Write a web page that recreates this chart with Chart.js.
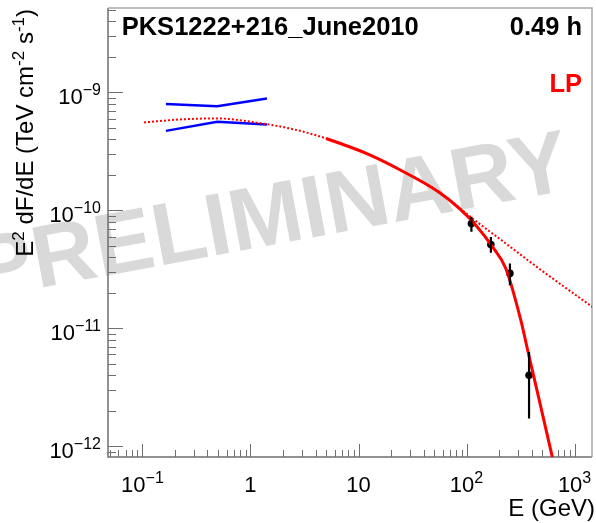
<!DOCTYPE html>
<html>
<head>
<meta charset="utf-8">
<script src="https://cdn.jsdelivr.net/npm/chart.js@4.4.1/dist/chart.umd.min.js"></script>
<style>
  html, body { margin: 0; padding: 0; background: #fff; }
  #wrap { width: 596px; height: 523px; }
</style>
</head>
<body>
<div id="wrap"><canvas id="sed"></canvas></div>
<script>
// spectral points, E in GeV, E^2 dF/dE in TeV cm^-2 s^-1
const pointE = [111, 168, 252, 379];
const pointF = [7.74e-11, 5.14e-11, 2.92e-11, 4.0e-12];
const pointFLow = [6.57e-11, 4.36e-11, 2.32e-11, 1.72e-12];
const pointFHigh = [8.81e-11, 5.93e-11, 3.55e-11, 6.28e-12];

// Fermi butterfly edges
const bowE = [0.165, 0.492, 1.42];
const bowUpper = [7.96e-10, 7.65e-10, 8.89e-10];
const bowLower = [4.72e-10, 5.63e-10, 5.35e-10];

// log-parabola, intrinsic (dotted)
const lpE = [0.1035, 0.222, 0.485, 1.41, 2.31, 3.53, 5.03, 11.8, 23.9, 56, 113.5, 231, 469, 1457];
const lpF = [5.57e-10, 5.90e-10, 6.02e-10, 5.38e-10, 4.95e-10, 4.49e-10, 4.07e-10, 3.04e-10, 2.22e-10, 1.43e-10, 8.54e-11, 5.24e-11, 3.21e-11, 1.52e-11];

// log-parabola with EBL absorption (solid)
const lpAbsE = [5.03, 11.8, 23.9, 56, 85.6, 122, 174, 231, 318, 374, 449, 622, 663];
const lpAbsF = [4.07e-10, 3.04e-10, 2.22e-10, 1.42e-10, 1.04e-10, 7.49e-11, 4.90e-11, 3.21e-11, 1.17e-11, 6.11e-12, 2.98e-12, 8.11e-13, 6.25e-13];

// axis labels: [base, exponent]
const xTickVals = [0.1, 1, 10, 100, 1000];
const xTickLabels = [['10', '\u22121'], ['1', ''], ['10', ''], ['10', '2'], ['10', '3']];
const yTickVals = [1e-12, 1e-11, 1e-10, 1e-9];
const yTickLabels = [['10', '\u221212'], ['10', '\u221211'], ['10', '\u221210'], ['10', '\u22129']];

const sourceName = 'PKS1222+216_June2010';
const exposure = '0.49 h';
const modelName = 'LP';
const watermark = 'PRELIMINARY';
const xTitle = 'E (GeV)';
// y title pieces, true = superscript
const yTitle = [['E', false], ['2', true], [' dF/dE (TeV cm', false], ['-2', true], [' s', false], ['-1', true], [')', false]];

const FONT = '"Liberation Sans", Arial, Helvetica, sans-serif';

const pairs = (xs, ys) => xs.map((x, i) => ({ x: x, y: ys[i] }));

function minorTicks(min, max) {
  const out = [];
  for (let e = Math.floor(Math.log10(min)); e <= Math.ceil(Math.log10(max)); e++) {
    for (let k = 1; k <= 9; k++) {
      const v = k * Math.pow(10, e);
      if (v >= min && v <= max) out.push({ v: v, major: k === 1 });
    }
  }
  return out;
}

function drawSup(ctx, base, sup, x, y, size, supSize, raise) {
  ctx.font = size + 'px ' + FONT;
  ctx.fillText(base, x, y);
  const w = ctx.measureText(base).width;
  if (sup) {
    ctx.font = supSize + 'px ' + FONT;
    ctx.fillText(sup, x + w, y - raise);
  }
}
function supWidth(ctx, base, sup, size, supSize) {
  ctx.font = size + 'px ' + FONT;
  let w = ctx.measureText(base).width;
  if (sup) {
    ctx.font = supSize + 'px ' + FONT;
    w += ctx.measureText(sup).width;
  }
  return w;
}

const rootFrame = {
  id: 'rootFrame',
  beforeDraw(chart) {
    const ctx = chart.ctx;
    ctx.save();
    ctx.fillStyle = '#ffffff';
    ctx.fillRect(0, 0, chart.width, chart.height);
    // watermark
    ctx.translate(-20, 299);
    ctx.rotate(-10.5 * Math.PI / 180);
    ctx.font = 'bold 88px ' + FONT;
    ctx.fillStyle = '#d9d9d9';
    ctx.textAlign = 'left';
    ctx.textBaseline = 'alphabetic';
    ctx.fillText(watermark, 0, 0);
    ctx.restore();
  },
  beforeDatasetsDraw(chart) {
    const { ctx, chartArea: a, scales: { x, y } } = chart;
    ctx.save();
    ctx.lineWidth = 1;
    ctx.strokeStyle = '#6f6f6f';
    ctx.beginPath();
    minorTicks(x.min, x.max).forEach(t => {
      const px = Math.round(x.getPixelForValue(t.v)) + 0.5;
      ctx.moveTo(px, a.bottom);
      ctx.lineTo(px, a.bottom - (t.major ? 13 : 7));
    });
    minorTicks(y.min, y.max).forEach(t => {
      const py = Math.round(y.getPixelForValue(t.v)) + 0.5;
      ctx.moveTo(a.left, py);
      ctx.lineTo(a.left + (t.major ? 15 : 8), py);
    });
    ctx.stroke();
    // frame
    ctx.lineWidth = 1.5;
    ctx.strokeStyle = '#6f6f6f';
    ctx.beginPath();
    ctx.moveTo(a.left, a.top);
    ctx.lineTo(a.left, a.bottom);
    ctx.lineTo(a.right, a.bottom);
    ctx.stroke();
    ctx.strokeStyle = '#a8a8a8';
    ctx.beginPath();
    ctx.moveTo(a.left, a.top);
    ctx.lineTo(a.right, a.top);
    ctx.lineTo(a.right, a.bottom);
    ctx.stroke();
    ctx.restore();
  },
  afterDatasetsDraw(chart) {
    // vertical error bars on the spectral points
    const { ctx, scales: { x, y } } = chart;
    ctx.save();
    ctx.strokeStyle = '#000';
    ctx.lineWidth = 2.2;
    ctx.beginPath();
    pointE.forEach((e, i) => {
      const px = x.getPixelForValue(e);
      ctx.moveTo(px, y.getPixelForValue(pointFLow[i]));
      ctx.lineTo(px, y.getPixelForValue(pointFHigh[i]));
    });
    ctx.stroke();
    ctx.restore();
  },
  afterDraw(chart) {
    const { ctx, scales: { x, y } } = chart;
    ctx.save();
    ctx.fillStyle = '#000';
    ctx.textBaseline = 'alphabetic';
    ctx.textAlign = 'left';
    // x tick labels
    xTickVals.forEach((v, i) => {
      const [b, s] = xTickLabels[i];
      const w = supWidth(ctx, b, s, 22, 16);
      drawSup(ctx, b, s, x.getPixelForValue(v) - w / 2, 492, 22, 16, 9);
    });
    // y tick labels
    yTickVals.forEach((v, i) => {
      const [b, s] = yTickLabels[i];
      const w = supWidth(ctx, b, s, 22, 16);
      drawSup(ctx, b, s, 101 - w, y.getPixelForValue(v) + 11.5, 22, 16, 9);
    });
    // x title
    ctx.font = '24px ' + FONT;
    ctx.textAlign = 'right';
    ctx.fillText(xTitle, 595, 516);
    // y title, rotated
    let total = 0;
    yTitle.forEach(([t, sup]) => {
      ctx.font = (sup ? 17 : 24) + 'px ' + FONT;
      total += ctx.measureText(t).width;
    });
    ctx.translate(33, 9 + total);
    ctx.rotate(-Math.PI / 2);
    ctx.textAlign = 'left';
    let off = 0;
    yTitle.forEach(([t, sup]) => {
      ctx.font = (sup ? 17 : 24) + 'px ' + FONT;
      ctx.fillText(t, off, sup ? -9.5 : 0);
      off += ctx.measureText(t).width;
    });
    ctx.restore();

    // header texts
    ctx.save();
    ctx.font = 'bold 25.5px ' + FONT;
    ctx.fillStyle = '#000';
    ctx.textAlign = 'left';
    ctx.fillText(sourceName, 121.7, 35);
    ctx.textAlign = 'right';
    ctx.fillText(exposure, 582, 35);
    ctx.fillStyle = '#ff0000';
    ctx.fillText(modelName, 582, 92);
    ctx.restore();
  }
};

new Chart(document.getElementById('sed'), {
  type: 'line',
  data: {
    datasets: [
      {
        label: 'LP intrinsic',
        data: pairs(lpE, lpF),
        borderColor: '#ff0000',
        borderWidth: 2,
        borderDash: [2, 2],
        pointRadius: 0,
        cubicInterpolationMode: 'monotone'
      },
      {
        label: 'LP absorbed',
        data: pairs(lpAbsE, lpAbsF),
        borderColor: '#ff0000',
        borderWidth: 3,
        pointRadius: 0,
        cubicInterpolationMode: 'monotone'
      },
      {
        label: 'Fermi upper',
        data: pairs(bowE, bowUpper),
        borderColor: '#0000ff',
        borderWidth: 2.5,
        pointRadius: 0,
        tension: 0
      },
      {
        label: 'Fermi lower',
        data: pairs(bowE, bowLower),
        borderColor: '#0000ff',
        borderWidth: 2.5,
        pointRadius: 0,
        tension: 0
      },
      {
        label: 'Data',
        data: pairs(pointE, pointF),
        showLine: false,
        pointRadius: 3.8,
        pointBackgroundColor: '#000',
        pointBorderColor: '#000',
        pointBorderWidth: 0
      }
    ]
  },
  options: {
    responsive: true,
    maintainAspectRatio: false,
    animation: false,
    devicePixelRatio: 1,
    layout: { padding: { left: 0, right: 3, top: 8, bottom: 0 } },
    plugins: { legend: { display: false }, tooltip: { enabled: false } },
    scales: {
      x: {
        type: 'logarithmic',
        min: 0.048,
        max: 1450,
        ticks: { display: false },
        grid: { display: false },
        border: { display: false },
        afterFit(scale) { scale.height = 66; }
      },
      y: {
        type: 'logarithmic',
        min: 8.1e-13,
        max: 5.2e-9,
        ticks: { display: false },
        grid: { display: false },
        border: { display: false },
        afterFit(scale) { scale.width = 108; }
      }
    }
  },
  plugins: [rootFrame]
});
</script>
</body>
</html>
